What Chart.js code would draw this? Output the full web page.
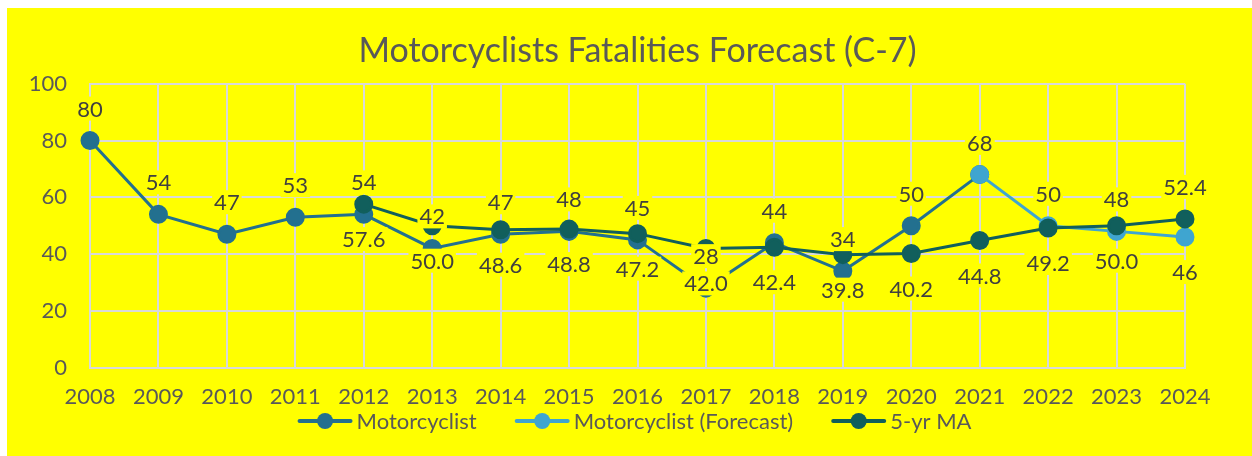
<!DOCTYPE html>
<html>
<head>
<meta charset="utf-8">
<script src="https://cdn.jsdelivr.net/npm/chart.js@4.4.1/dist/chart.umd.min.js"></script>
<style>
  html, body { margin: 0; padding: 0; background: #fff; }
  #wrap { width: 1252px; height: 456px; }
</style>
</head>
<body>
<div id="wrap"><canvas id="myChart"></canvas></div>
<script>
var years = ['2008', '2009', '2010', '2011', '2012', '2013', '2014', '2015', '2016',
             '2017', '2018', '2019', '2020', '2021', '2022', '2023', '2024'];
var motorcyclist = [80, 54, 47, 53, 54, 42, 47, 48, 45, 28, 44, 34, 50, 68, null, null, null];
var forecast = [null, null, null, null, null, null, null, null, null, null, null, null, null, 68, 50, 48, 46];
var movingAvg = [null, null, null, null, 57.6, 50.0, 48.6, 48.8, 47.2, 42.0, 42.4, 39.8, 40.2, 44.8, 49.2, 50.0, 52.4];
var yTicks = [0, 20, 40, 60, 80, 100];

var corMoto = '#23708f';
var corForecast = '#3fa5d0';
var corMA = '#115f5c';
var amarelo = '#ffff00';
var fonte = 'Lato';

var fundo = {
    id: 'fundo',
    beforeDraw: function (chart) {
        var ctx = chart.ctx;
        ctx.save();
        ctx.fillStyle = '#ffffff';
        ctx.fillRect(0, 0, chart.width, chart.height);
        ctx.fillStyle = amarelo;
        ctx.fillRect(7, 8, chart.width - 7, chart.height - 8);
        ctx.restore();
    }
};

// data labels with a yellow box behind, like the Excel original
var rotulos = {
    id: 'rotulos',
    afterDatasetsDraw: function (chart) {
        var ctx = chart.ctx;
        ctx.save();
        ctx.font = '22px ' + fonte;
        ctx.textAlign = 'center';
        ctx.textBaseline = 'middle';
        chart.data.datasets.forEach(function (ds, i) {
            var meta = chart.getDatasetMeta(i);
            meta.data.forEach(function (pt, j) {
                var v = ds.data[j];
                if (v === null || v === undefined) return;
                var txt = ds.casas ? v.toFixed(ds.casas) : String(v);
                var y = ds.posRotulo(j) === 'above' ? pt.y - 32 : pt.y + 35;
                var w = ctx.measureText(txt).width;
                ctx.fillStyle = amarelo;
                ctx.fillRect(pt.x - w / 2 - 2, y - 12, w + 4, 24);
                ctx.fillStyle = '#404040';
                ctx.fillText(txt, pt.x, y + 1);
            });
        });
        ctx.restore();
    }
};

// legend: line + dot swatch, text right after it
var legenda = {
    id: 'legenda',
    afterDraw: function (chart) {
        var ctx = chart.ctx;
        var area = chart.chartArea;
        var sw = 55, gapTxt = 4, gapItem = 38;
        ctx.save();
        ctx.font = '22px ' + fonte;
        ctx.textBaseline = 'middle';
        var itens = chart.data.datasets.map(function (ds) {
            return { label: ds.label, cor: ds.borderColor, w: ctx.measureText(ds.label).width };
        });
        var total = 0;
        itens.forEach(function (it, k) {
            total += sw + gapTxt + it.w + (k < itens.length - 1 ? gapItem : 0);
        });
        var x = (area.left + area.right) / 2 - 3 - total / 2;
        var y = 421;
        itens.forEach(function (it) {
            ctx.strokeStyle = it.cor;
            ctx.lineWidth = 4;
            ctx.lineCap = 'round';
            ctx.beginPath(); ctx.moveTo(x + 2, y); ctx.lineTo(x + sw - 2, y); ctx.stroke();
            ctx.fillStyle = it.cor;
            ctx.beginPath(); ctx.arc(x + sw / 2, y, 8, 0, Math.PI * 2); ctx.fill();
            ctx.fillStyle = '#595959';
            ctx.fillText(it.label, x + sw + gapTxt, y + 1);
            x += sw + gapTxt + it.w + gapItem;
        });
        ctx.restore();
    }
};

var ultimo = years.length - 1;
var ctx = document.getElementById('myChart').getContext('2d');
var myChart = new Chart(ctx, {
    type: 'line',
    data: {
        labels: years,
        datasets: [{
            label: 'Motorcyclist',
            data: motorcyclist,
            borderColor: corMoto,
            backgroundColor: corMoto,
            borderWidth: 3,
            pointRadius: 8,
            pointHoverRadius: 8,
            order: 2,
            casas: 0,
            posRotulo: function () { return 'above'; }
        }, {
            label: 'Motorcyclist (Forecast)',
            data: forecast,
            borderColor: corForecast,
            backgroundColor: corForecast,
            borderWidth: 3,
            pointRadius: 8,
            pointHoverRadius: 8,
            order: 1,
            casas: 0,
            posRotulo: function (j) { return j === ultimo ? 'below' : 'above'; }
        }, {
            label: '5-yr MA',
            data: movingAvg,
            borderColor: corMA,
            backgroundColor: corMA,
            borderWidth: 3,
            pointRadius: 8,
            pointHoverRadius: 8,
            order: 0,
            casas: 1,
            posRotulo: function (j) { return j === ultimo ? 'above' : 'below'; }
        }]
    },
    options: {
        responsive: true,
        maintainAspectRatio: false,
        animation: false,
        layout: { padding: { left: 7, top: 20, right: 67, bottom: 30 } },
        plugins: {
            tooltip: { enabled: false },
            legend: { display: false },
            title: {
                display: true,
                fullSize: false,
                text: 'Motorcyclists Fatalities Forecast (C-7)',
                color: '#595959',
                font: { family: fonte, size: 34, weight: 'normal' },
                padding: { top: 11, bottom: 12 }
            }
        },
        scales: {
            x: {
                offset: false,
                grid: { color: '#d9d9d9', lineWidth: 2, drawTicks: false },
                border: { color: '#d9d9d9', width: 2 },
                ticks: { color: '#595959', font: { family: fonte, size: 22 }, padding: 16, maxRotation: 0 }
            },
            y: {
                min: 0,
                max: 100,
                afterBuildTicks: function (scale) {
                    scale.ticks = yTicks.map(function (v) { return { value: v }; });
                },
                afterFit: function (scale) { scale.width = 83; },
                grid: { color: '#d9d9d9', lineWidth: 2, drawTicks: false },
                border: { color: '#d9d9d9', width: 2 },
                ticks: { color: '#595959', font: { family: fonte, size: 22 }, padding: 23 }
            }
        }
    },
    plugins: [fundo, rotulos, legenda]
});
</script>
</body>
</html>
